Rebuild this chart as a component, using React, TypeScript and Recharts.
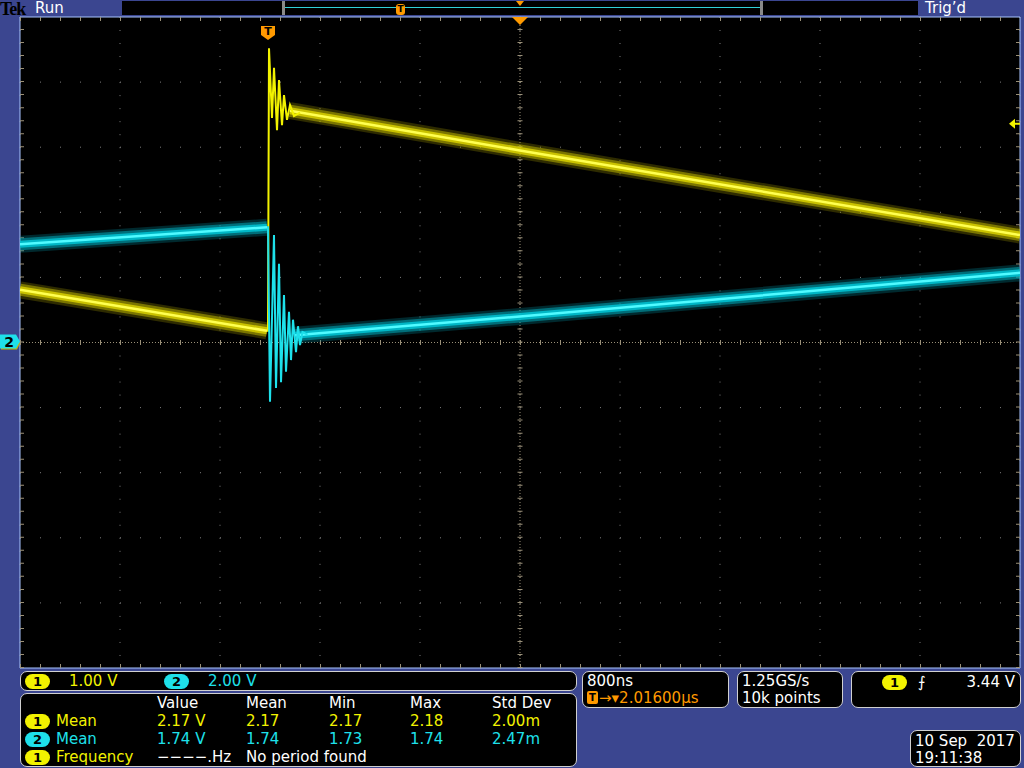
import React from 'react';
import { LineChart, Line, XAxis, YAxis, CartesianGrid, ReferenceLine, ReferenceDot, ReferenceArea } from 'recharts';

// x: ns from left edge of screen (800 ns/div, 10 div), y: vertical divisions from centre (10 div)
const timeTicks = [0, 800, 1600, 2400, 3200, 4000, 4800, 5600, 6400, 7200, 8000];
const divTicks = [-5, -4, -3, -2, -1, 0, 1, 2, 3, 4, 5];

const ch1BandLeft = [
  { t: 0, v: 0.81 },
  { t: 1976, v: 0.18 },
];
const ch1BandRight = [
  { t: 2160, v: 3.56 },
  { t: 4000, v: 2.95 },
  { t: 8000, v: 1.65 },
];
const ch1Ring = [
  { t: 1976, v: 0.18 }, { t: 1984, v: 0.18 }, { t: 1992, v: 4.52 }, { t: 2016, v: 3.45 },
  { t: 2032, v: 4.22 }, { t: 2056, v: 3.26 }, { t: 2072, v: 4.03 }, { t: 2096, v: 3.34 },
  { t: 2112, v: 3.8 }, { t: 2136, v: 3.42 }, { t: 2160, v: 3.65 }, { t: 2192, v: 3.48 },
  { t: 2240, v: 3.53 },
];

const ch2BandLeft = [
  { t: 0, v: 1.51 },
  { t: 1976, v: 1.77 },
];
const ch2BandRight = [
  { t: 2200, v: 0.11 },
  { t: 4000, v: 0.4 },
  { t: 8000, v: 1.07 },
];
const ch2Ring = [
  { t: 1976, v: 1.77 }, { t: 1984, v: 1.77 }, { t: 2000, v: -0.91 }, { t: 2032, v: 1.65 },
  { t: 2048, v: -0.7 }, { t: 2072, v: 1.21 }, { t: 2088, v: -0.61 }, { t: 2112, v: 0.73 },
  { t: 2128, v: -0.45 }, { t: 2152, v: 0.47 }, { t: 2168, v: -0.27 }, { t: 2184, v: 0.35 },
  { t: 2208, v: -0.15 }, { t: 2224, v: 0.25 }, { t: 2240, v: -0.04 }, { t: 2260, v: 0.16 },
  { t: 2300, v: 0.12 },
];

const triggerTime = 1984;
const triggerLevel = 3.36;
const ch2Ground = 0;

const measHeader = ['Value', 'Mean', 'Min', 'Max', 'Std Dev'];
const ch1Meas = ['2.17 V', '2.17', '2.17', '2.18', '2.00m'];
const ch2Meas = ['1.74 V', '1.74', '1.73', '1.74', '2.47m'];
const measCols = [157, 246, 329, 410, 492];

const YEL = '#f2f200';
const CYA = '#1ee0ea';
const ORANGE = '#ff9a00';
const BLUE = '#3b4690';

const glow = (key: string, data: any[], c: string[]) => [
  <Line key={key + 'a'} data={data} dataKey="v" type="linear" stroke={c[0]} strokeWidth={17} strokeOpacity={0.3} dot={false} activeDot={false} isAnimationActive={false} />,
  <Line key={key + 'b'} data={data} dataKey="v" type="linear" stroke={c[1]} strokeWidth={12} strokeOpacity={0.45} dot={false} activeDot={false} isAnimationActive={false} />,
  <Line key={key + 'c'} data={data} dataKey="v" type="linear" stroke={c[1]} strokeWidth={7} strokeOpacity={0.85} dot={false} activeDot={false} isAnimationActive={false} />,
  <Line key={key + 'd'} data={data} dataKey="v" type="linear" stroke={c[2]} strokeWidth={2.5} dot={false} activeDot={false} isAnimationActive={false} />,
];

const Badge = ({ n, color, x, y }: { n: number; color: string; x: number; y: number }) => (
  <div style={{ position: 'absolute', left: x, top: y, width: 25, height: 15, borderRadius: 8, background: color, color: '#000', fontSize: 13, fontWeight: 'bold', lineHeight: '15px', textAlign: 'center' }}>{n}</div>
);

const Txt = ({ x, y, color, children, right }: any) => (
  <div style={{ position: 'absolute', left: right ? undefined : x, right: right, top: y - 9, lineHeight: '18px', fontSize: 15, color, whiteSpace: 'pre' }}>{children}</div>
);

const Panel = ({ x, y, w, h, children }: any) => (
  <div style={{ position: 'absolute', left: x, top: y, width: w, height: h, background: '#000', border: '1px solid #d0d0d0', borderRadius: 7, boxSizing: 'border-box' }}>{children}</div>
);

const App: React.FC = () => {
  return (
    <div style={{ position: 'absolute', left: 0, top: 0, width: 1024, height: 768, background: BLUE, overflow: 'hidden', fontFamily: '"DejaVu Sans", sans-serif' }}>
      {/* top bar */}
      <div style={{ position: 'absolute', left: 0, top: 0, fontFamily: '"Liberation Serif", serif', fontWeight: 'bold', fontSize: 18, lineHeight: '18px', color: '#000', letterSpacing: -1 }}>Tek</div>
      <div style={{ position: 'absolute', left: 35, top: 0, fontSize: 15, lineHeight: '16px', color: '#fff' }}>Run</div>
      <div style={{ position: 'absolute', left: 122, top: 1, width: 796, height: 14, background: '#000' }} />
      <div style={{ position: 'absolute', left: 283, top: 7, width: 478, height: 1, background: '#30d0d8' }} />
      <div style={{ position: 'absolute', left: 282, top: 1, width: 3, height: 14, background: '#8a8a8a' }} />
      <div style={{ position: 'absolute', left: 760, top: 1, width: 3, height: 14, background: '#8a8a8a' }} />
      <div style={{ position: 'absolute', left: 396, top: 4, width: 9, height: 11, borderRadius: 3, background: ORANGE, color: '#000', fontSize: 9, fontWeight: 'bold', lineHeight: '11px', textAlign: 'center' }}>T</div>
      <div style={{ position: 'absolute', left: 516, top: 1, width: 0, height: 0, borderLeft: '4px solid transparent', borderRight: '4px solid transparent', borderTop: '5px solid ' + ORANGE }} />
      <div style={{ position: 'absolute', left: 925, top: 0, fontSize: 15, lineHeight: '16px', color: '#fff' }}>Trig’d</div>

      <div style={{ position: 'absolute', left: 0, top: 0 }}>
        <LineChart width={1024} height={768} margin={{ top: 17, right: 4, bottom: 100, left: 20 }}>
          <XAxis dataKey="t" type="number" domain={[0, 8000]} ticks={timeTicks} hide allowDataOverflow />
          <YAxis type="number" domain={[-5, 5]} ticks={divTicks} hide allowDataOverflow />
          <CartesianGrid fill="#000" vertical={false} stroke="#7c7c7c" strokeDasharray="1 19" horizontalValues={divTicks} />
          <CartesianGrid horizontal={false} stroke="#7c7c7c" strokeDasharray="1 12.02" verticalValues={timeTicks} />
          <ReferenceLine y={0} stroke="#9a9078" strokeDasharray="1 2" />
          <ReferenceLine y={0} stroke="#9a9078" strokeWidth={5} strokeDasharray="1 19" />
          <ReferenceLine x={4000} stroke="#9a9078" strokeDasharray="1 2" />
          <ReferenceLine x={4000} stroke="#9a9078" strokeWidth={5} strokeDasharray="1 12.02" />
          <ReferenceLine y={4.97} stroke="#9a9078" strokeWidth={4} strokeDasharray="1 19" />
          <ReferenceLine y={-4.97} stroke="#9a9078" strokeWidth={4} strokeDasharray="1 19" />
          <ReferenceLine x={16} stroke="#9a9078" strokeWidth={4} strokeDasharray="1 12.02" />
          <ReferenceLine x={7984} stroke="#9a9078" strokeWidth={4} strokeDasharray="1 12.02" />
          {glow('c2l', ch2BandLeft, ['#008898', '#00c4d4', '#50faff'])}
          {glow('c2r', ch2BandRight, ['#008898', '#00c4d4', '#50faff'])}
          {glow('c1l', ch1BandLeft, ['#989000', '#d8d000', '#ffff50'])}
          {glow('c1r', ch1BandRight, ['#989000', '#d8d000', '#ffff50'])}
          <Line data={ch1Ring} dataKey="v" type="linear" stroke={YEL} strokeWidth={2} dot={false} activeDot={false} isAnimationActive={false} />
          <Line data={ch2Ring} dataKey="v" type="linear" stroke={CYA} strokeWidth={2} dot={false} activeDot={false} isAnimationActive={false} />
          <ReferenceArea x1={0} x2={8000} y1={-5} y2={5} fill="none" stroke="#a8c4ff" strokeWidth={1} />
          <ReferenceDot x={triggerTime} y={5} ifOverflow="visible" shape={(p: any) => (
            <g>
              <path d={`M${p.cx - 7},${p.cy + 9} h14 v9 l-7,5 l-7,-5 z`} fill={ORANGE} />
              <text x={p.cx} y={p.cy + 18} textAnchor="middle" fontSize={11} fontWeight="bold" fill="#000">T</text>
            </g>
          )} />
          <ReferenceDot x={4000} y={5} ifOverflow="visible" shape={(p: any) => (
            <path d={`M${p.cx - 8},${p.cy} h16 l-8,8 z`} fill={ORANGE} />
          )} />
          <ReferenceDot x={8000} y={triggerLevel} ifOverflow="visible" shape={(p: any) => (
            <g>
              <path d={`M${p.cx - 11},${p.cy} l6,-5 v10 z`} fill={YEL} />
              <line x1={p.cx - 6} y1={p.cy} x2={p.cx} y2={p.cy} stroke={YEL} strokeWidth={2} />
            </g>
          )} />
          <ReferenceDot x={0} y={ch2Ground} ifOverflow="visible" shape={(p: any) => (
            <g>
              <path d={`M${p.cx - 19},${p.cy - 5} h16 l3,6 l-3,6 h-16 z`} fill="#c8b400" />
              <path d={`M${p.cx - 20},${p.cy - 8} h16 l4,7 l-4,7 h-16 z`} fill={CYA} />
              <text x={p.cx - 11} y={p.cy + 4} textAnchor="middle" fontSize={14} fontWeight="bold" fill="#000">2</text>
            </g>
          )} />
        </LineChart>
      </div>

      {/* bottom readouts */}
      <Panel x={20} y={671} w={557} h={20}>
        <Badge n={1} color={YEL} x={4} y={2} />
        <Txt x={48} y={9} color={YEL}>1.00 V</Txt>
        <Badge n={2} color={CYA} x={143} y={2} />
        <Txt x={187} y={9} color={CYA}>2.00 V</Txt>
      </Panel>
      <Panel x={20} y={693} w={557} h={74}>
        {measHeader.map((h, i) => <Txt key={h} x={measCols[i] - 21} y={9} color="#fff">{h}</Txt>)}
        <Badge n={1} color={YEL} x={4} y={20} />
        <Txt x={35} y={27} color={YEL}>Mean</Txt>
        {ch1Meas.map((m, i) => <Txt key={'a' + i} x={measCols[i] - 21} y={27} color={YEL}>{m}</Txt>)}
        <Badge n={2} color={CYA} x={4} y={38} />
        <Txt x={35} y={45} color={CYA}>Mean</Txt>
        {ch2Meas.map((m, i) => <Txt key={'b' + i} x={measCols[i] - 21} y={45} color={CYA}>{m}</Txt>)}
        <Badge n={1} color={YEL} x={4} y={56} />
        <Txt x={35} y={63} color={YEL}>Frequency</Txt>
        <Txt x={136} y={63} color="#fff">−−−−.Hz</Txt>
        <Txt x={225} y={63} color="#fff">No period found</Txt>
      </Panel>
      <Panel x={582} y={671} w={147} h={37}>
        <Txt x={4} y={9} color="#fff">800ns</Txt>
        <div style={{ position: 'absolute', left: 4, top: 19, width: 11, height: 13, borderRadius: 2, background: ORANGE, color: '#000', fontSize: 10, fontWeight: 'bold', lineHeight: '13px', textAlign: 'center' }}>T</div>
        <Txt x={16} y={26} color={ORANGE}>→▾2.01600µs</Txt>
      </Panel>
      <Panel x={737} y={671} w={106} h={37}>
        <Txt x={4} y={9} color="#fff">1.25GS/s</Txt>
        <Txt x={4} y={26} color="#fff">10k points</Txt>
      </Panel>
      <Panel x={851} y={671} w={170} h={37}>
        <Badge n={1} color={YEL} x={30} y={3} />
        <Txt x={66} y={10} color="#fff">⨍</Txt>
        <Txt right={5} y={10} color="#fff">3.44 V</Txt>
      </Panel>
      <Panel x={910} y={730} w={111} h={37}>
        <Txt x={4} y={10} color="#fff">10 Sep  2017</Txt>
        <Txt x={4} y={27} color="#fff">19:11:38</Txt>
      </Panel>
    </div>
  );
};

export default App;
